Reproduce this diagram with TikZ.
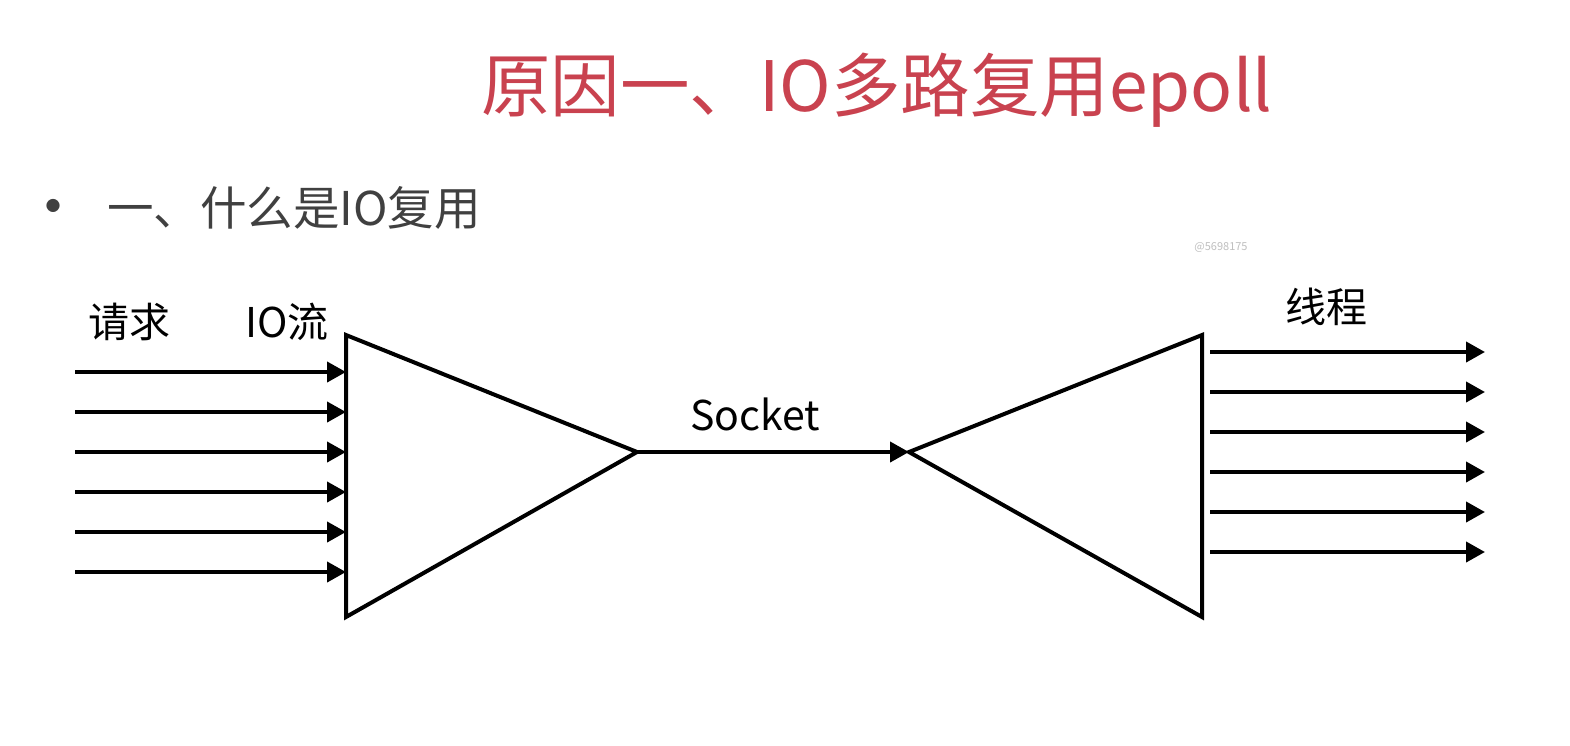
\documentclass[tikz,border=0pt]{standalone}
\usepackage{fontspec}
\setmainfont{Noto Sans CJK SC}
\usetikzlibrary{arrows.meta}
\definecolor{titlered}{RGB}{201,66,79}
\definecolor{bodygray}{RGB}{64,64,64}
\tikzset{
  flow/.style={line width=4pt,-{Triangle[length=19pt,width=20pt]}},
  tri/.style={line width=4pt,line join=miter},
  lbl/.style={inner sep=0pt,text=black,font=\fontsize{41}{41}\selectfont},
}
\begin{document}
\begin{tikzpicture}[x=1pt,y=-1pt]
\useasboundingbox[fill=white] (0,0) rectangle (1570,745);
\node[inner sep=0pt,text=titlered,font=\fontsize{69.5}{70}\selectfont] (title) at (877,90) {原因一、IO多路复用epoll};
\node[inner sep=0pt,text=bodygray,font=\fontsize{62}{62}\selectfont] (bullet) at (54,214) {•};
\node[inner sep=0pt,anchor=west,text=bodygray,font=\fontsize{46.5}{47}\selectfont] (heading) at (107,208) {一、什么是IO复用};
\node[inner sep=0pt,text=black!25,font=\fontsize{11}{11}\selectfont] (wm) at (1221,247) {@5698175};
% left triangle
\coordinate (L1) at (346,335);
\coordinate (L2) at (346,617);
\coordinate (Ltip) at (637,452);
\draw[tri] (L1) -- (Ltip) -- (L2) -- cycle;
% right triangle
\coordinate (R1) at (1202,335);
\coordinate (R2) at (1202,617);
\coordinate (Rtip) at (909,452);
\draw[tri] (R1) -- (Rtip) -- (R2) -- cycle;
% socket
\draw[flow] (Ltip) -- (Rtip);
\node[lbl] (sock) at (755,414) {Socket};
% inputs
\foreach \i/\y in {1/372,2/412,3/452,4/492,5/532,6/572}{
  \coordinate (in\i) at (75,\y);
  \coordinate (inE\i) at (346,\y);
  \draw[flow] (in\i) -- (inE\i);
}
% outputs
\foreach \i/\y in {1/352,2/392,3/432,4/472,5/512,6/552}{
  \coordinate (out\i) at (1210,\y);
  \coordinate (outE\i) at (1485,\y);
  \draw[flow] (out\i) -- (outE\i);
}
\node[lbl] (req) at (129,322) {请求};
\node[lbl] (io) at (287,322) {IO流};
\node[lbl] (thr) at (1326,307) {线程};
\end{tikzpicture}
\end{document}
